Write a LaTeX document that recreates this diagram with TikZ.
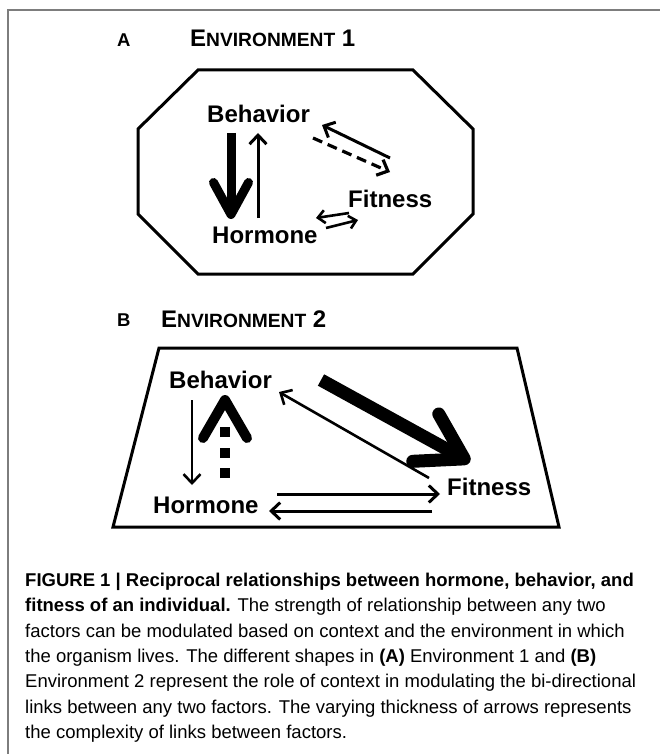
\documentclass[tikz,border=0pt]{standalone}
\usepackage{fontspec}
\setmainfont{Liberation Sans}
\usetikzlibrary{arrows.meta}
\definecolor{framegray}{RGB}{125,125,125}
\begin{document}
\begin{tikzpicture}[x=1pt,y=-1pt,
  lbl/.style={inner sep=0pt, anchor=base west, font=\fontsize{24}{26}\selectfont\bfseries},
  ttl/.style={inner sep=0pt, anchor=base west, font=\fontsize{18.5}{20}\selectfont\bfseries},
  captxt/.style={inner sep=0pt, anchor=base west, font=\fontsize{18.5}{22}\selectfont},
  envshape/.style={line width=3pt, line join=miter},
  thinarrow/.style={line width=2.6pt, -{Straight Barb[length=9pt,width=17pt]}},
]
\useasboundingbox (0,0) rectangle (660,754);
\draw[framegray, line width=1.3pt] (8,754) -- (8,10) -- (660,10);

% ---------- Panel A ----------
\node[ttl] (labA) at (117,47) {A};
\node[ttl] (titA) at (190,47) {\fontsize{24}{24}\selectfont E{\fontsize{19.2}{18}\selectfont NVIRONMENT} 1};
\draw[envshape] (198,70) -- (413,70) -- (473,129) -- (473,214) -- (413,274)
  -- (198,274) -- (138,214) -- (138,129) -- cycle;
\node[lbl] (behA) at (207,123) {Behavior};
\node[lbl] (fitA) at (348,207) {Fitness};
\node[lbl] (horA) at (212,243) {Hormone};

\coordinate (a1s) at (231,133); \coordinate (a1e) at (231,219);
\coordinate (a2s) at (258,218); \coordinate (a2e) at (258,133);
\coordinate (a3s) at (390,158); \coordinate (a3e) at (322,125);
\coordinate (a4s) at (313,138); \coordinate (a4e) at (390,172);
\coordinate (a5s) at (349,213); \coordinate (a5e) at (316,218);
\coordinate (a6s) at (326,228); \coordinate (a6e) at (358,220);

\draw[line width=9pt, -{Straight Barb[length=32pt,width=35pt,round]}] (a1s) -- (a1e);
\draw[thinarrow, line width=3pt] (a2s) -- (a2e);
\draw[thinarrow, line width=3pt] (a3s) -- (a3e);
\draw[thinarrow, line width=3.2pt, dash pattern=on 10pt off 6pt] (a4s) -- (a4e);
\draw[line width=2.6pt, -{Straight Barb[length=7pt,width=13pt]}] (a5s) -- (a5e);
\draw[line width=2.6pt, -{Straight Barb[length=7pt,width=13pt]}] (a6s) -- (a6e);

% ---------- Panel B ----------
\node[ttl] (labB) at (117,326) {B};
\node[ttl] (titB) at (161,327) {\fontsize{24}{24}\selectfont E{\fontsize{19.2}{18}\selectfont NVIRONMENT} 2};
\draw[envshape] (159,348) -- (517,348) -- (559,527) -- (113,527) -- cycle;
\node[lbl] (behB) at (169,388) {Behavior};
\node[lbl] (fitB) at (447,495) {Fitness};
\node[lbl] (horB) at (153,513) {Hormone};

\coordinate (b1s) at (192,400); \coordinate (b1e) at (192,485);
\coordinate (b2s) at (225,478); \coordinate (b2e) at (225,395);
\coordinate (b3s) at (429,478); \coordinate (b3e) at (279,392);
\coordinate (b4s) at (321,380); \coordinate (b4e) at (470,462);
\coordinate (b5s) at (277,494); \coordinate (b5e) at (440,494);
\coordinate (b6s) at (432,511); \coordinate (b6e) at (269,511);

\draw[thinarrow] (b1s) -- (b1e);
\draw[line width=10pt, dash pattern=on 10pt off 10.5pt on 10pt off 10.5pt on 10pt off 200pt,
  -{Straight Barb[length=38pt,width=44pt,round]}] (b2s) -- (b2e);
\draw[thinarrow] (b3s) -- (b3e);
\draw[line width=13pt, -{Straight Barb[length=44pt,width=54pt,round]}] (b4s) -- (b4e);
\draw[thinarrow, line width=3pt] (b5s) -- (b5e);
\draw[thinarrow, line width=3pt] (b6s) -- (b6e);

% ---------- Caption ----------
\node[captxt] (c1) at (25,586) {\textbf{FIGURE 1 | Reciprocal relationships between hormone, behavior, and}};
\node[captxt] (c2) at (25,611) {\textbf{fitness of an individual.} The strength of relationship between any two};
\node[captxt] (c3) at (25,637) {factors can be modulated based on context and the environment in which};
\node[captxt] (c4) at (25,662) {the organism lives. The different shapes in \textbf{(A)} Environment 1 and \textbf{(B)}};
\node[captxt] (c5) at (25,687) {Environment 2 represent the role of context in modulating the bi-directional};
\node[captxt] (c6) at (25,713) {links between any two factors. The varying thickness of arrows represents};
\node[captxt] (c7) at (25,738) {the complexity of links between factors.};
\end{tikzpicture}
\end{document}
